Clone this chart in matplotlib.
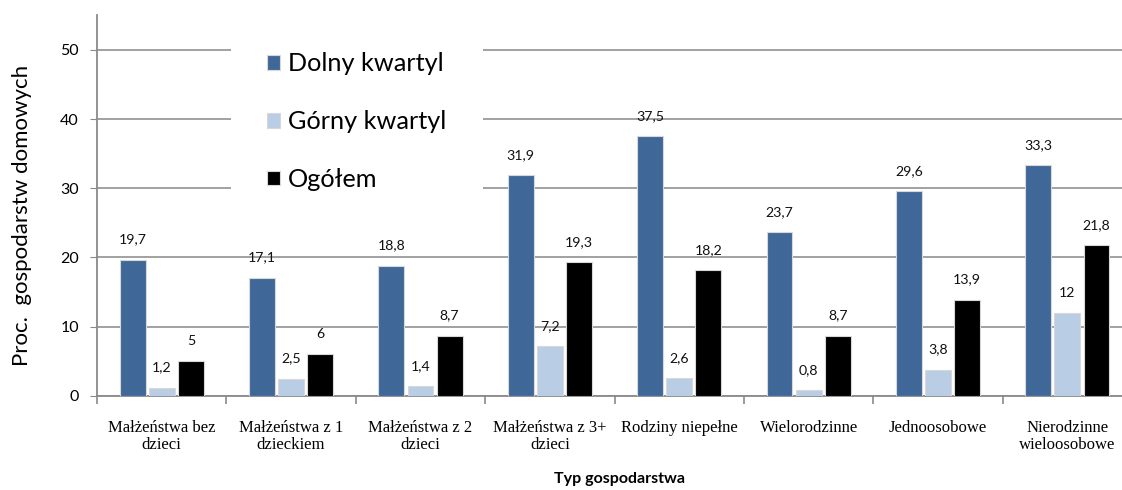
import matplotlib.pyplot as plt
import numpy as np

categories = ['Małżeństwa bez\ndzieci', 'Małżeństwa z 1\ndzieckiem', 'Małżeństwa z 2\ndzieci',
              'Małżeństwa z 3+\ndzieci', 'Rodziny niepełne', 'Wielorodzinne',
              'Jednoosobowe', 'Nierodzinne\nwieloosobowe']
dolny = [19.7, 17.1, 18.8, 31.9, 37.5, 23.7, 29.6, 33.3]
gorny = [1.2, 2.5, 1.4, 7.2, 2.6, 0.8, 3.8, 12]
ogolem = [5, 6, 8.7, 19.3, 18.2, 8.7, 13.9, 21.8]
series_names = ['Dolny kwartyl', 'Górny kwartyl', 'Ogółem']
colors = ['#3f6899', '#b9cde5', '#000000']


def fmt(v):
    s = ('%g' % v)
    return s.replace('.', ',')


fig = plt.figure(figsize=(11.22, 4.90), dpi=100)
ax = fig.add_axes([0.0865, 0.192, 0.9225, 0.777])

x = np.arange(len(categories))
step = 0.225
width = 0.2
for i, (vals, name, c) in enumerate(zip([dolny, gorny, ogolem], series_names, colors)):
    pos = x + (i - 1) * step
    ax.bar(pos, vals, width, color=c, label=name, edgecolor='#d8d8d8',
           linewidth=0.8, zorder=3)
    for px, v in zip(pos, vals):
        ax.annotate(fmt(v), (px, v), xytext=(0, 14.5), textcoords='offset points',
                    ha='center', va='center', fontsize=10.2, family='Lato',
                    color='#111111', zorder=4)

ax.set_xlim(-0.5, len(categories) - 0.5)
ax.set_ylim(0, 55)
ax.set_yticks(range(0, 51, 10))
ax.yaxis.grid(True, color='#9a9a9a', linewidth=1.3, zorder=0)
ax.tick_params(axis='y', length=5, color='#8a8a8a', labelsize=11.5, pad=8)
for lbl in ax.get_yticklabels():
    lbl.set_family('Lato')

ax.set_xticks(x)
ax.set_xticklabels(categories, family='Liberation Serif', fontsize=12, linespacing=1.15)
ax.set_xticks(np.arange(-0.5, len(categories), 1), minor=True)
ax.tick_params(axis='x', which='major', length=0, pad=17)
ax.tick_params(axis='x', which='minor', length=6, color='#8a8a8a', width=1.2)

for side in ['top', 'right']:
    ax.spines[side].set_visible(False)
ax.spines['left'].set_color('#8a8a8a')
ax.spines['left'].set_linewidth(1.3)
ax.spines['bottom'].set_color('#8a8a8a')
ax.spines['bottom'].set_linewidth(1.3)

fig.text(0.0196, 1 - 215 / 490, 'Proc.  gospodarstw domowych', family='Lato', fontsize=16,
         rotation=90, ha='center', va='center')
fig.text(0.552, 1 - 479 / 490, 'Typ gospodarstwa', family='Lato', fontsize=11.5,
         fontweight='bold', ha='center', va='center')

leg = ax.legend(loc='upper left', bbox_to_anchor=(0.1943, 0.994), bbox_transform=fig.transFigure,
                frameon=True, facecolor='white', edgecolor='none', framealpha=1,
                prop={'family': 'Lato', 'size': 18.2}, handlelength=0.52, handleheight=0.52,
                handletextpad=0.3, labelspacing=1.38, borderpad=1.45, fancybox=False)
leg.set_zorder(5)

fig.savefig('out.png', dpi=100)
